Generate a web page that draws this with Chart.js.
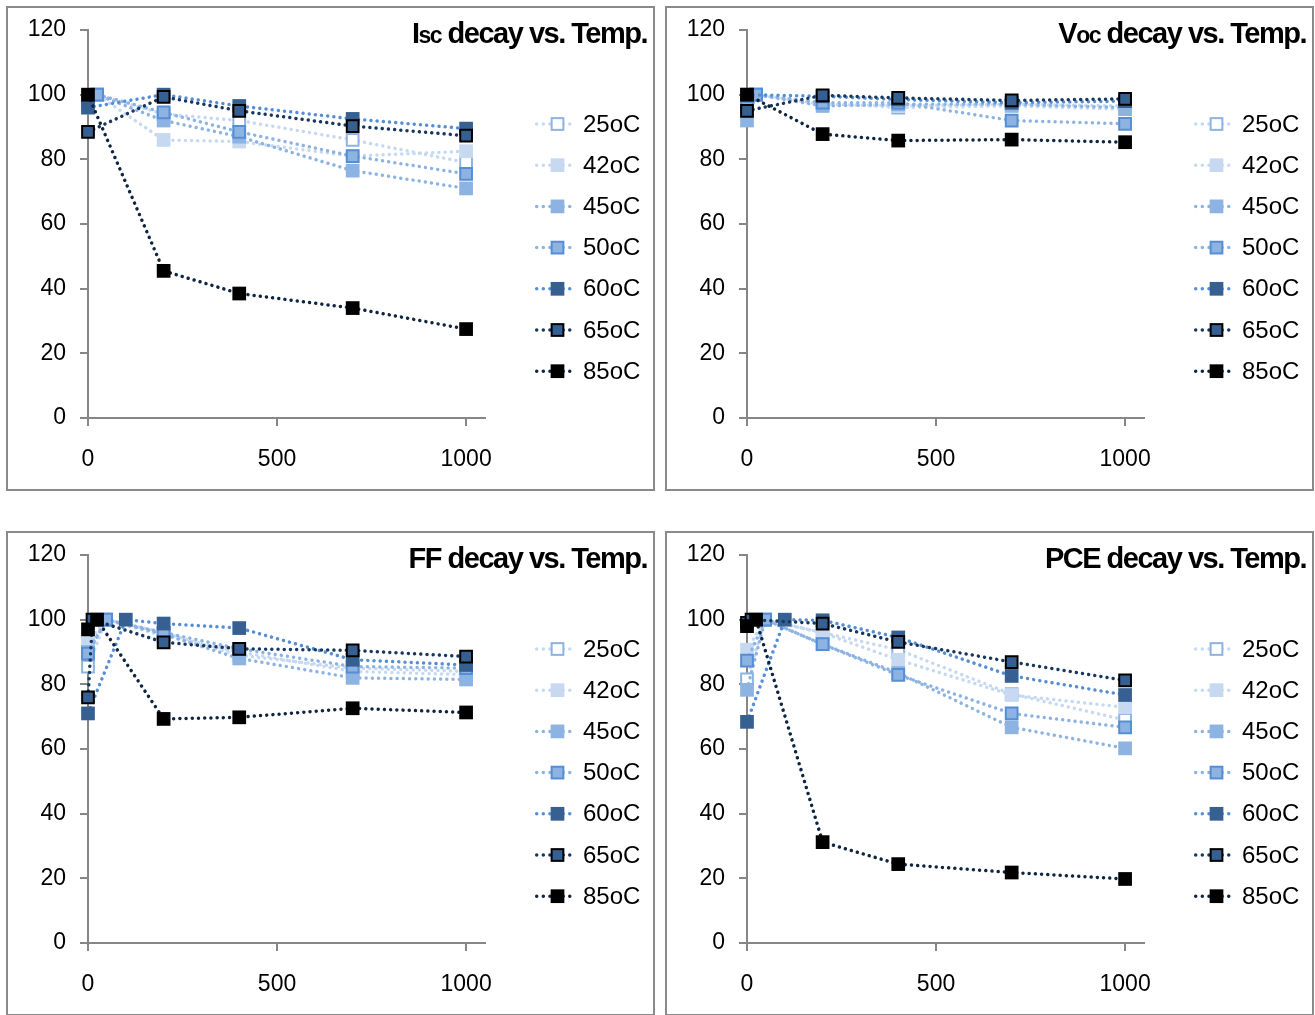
<!DOCTYPE html>
<html><head><meta charset="utf-8">
<script src="https://cdn.jsdelivr.net/npm/chart.js@4/dist/chart.umd.min.js"></script>
<style>
html,body{margin:0;padding:0;background:#fff;}
body{width:1315px;height:1015px;overflow:hidden;position:relative;}
.panel{position:absolute;width:645px;height:481px;border:2px solid #8a8a8a;background:#fff;}
canvas{display:block;}
</style></head><body>
<div class="panel" style="left:6px;top:6px"><canvas id="c0" width="645" height="481"></canvas></div>
<div class="panel" style="left:665px;top:6px"><canvas id="c1" width="645" height="481"></canvas></div>
<div class="panel" style="left:6px;top:531px"><canvas id="c2" width="645" height="481"></canvas></div>
<div class="panel" style="left:665px;top:531px"><canvas id="c3" width="645" height="481"></canvas></div>
<script>
// ---------------- data ----------------
const seriesLabels = ['25oC', '42oC', '45oC', '50oC', '60oC', '65oC', '85oC'];
const xTickValues = [0, 500, 1000];
const yTickValues = [0, 20, 40, 60, 80, 100, 120];

// Isc decay
const iscTimes = [
  [0, 24, 200, 400, 700, 1000],
  [0, 24, 200, 400, 700, 1000],
  [0, 24, 200, 400, 700, 1000],
  [0, 24, 200, 400, 700, 1000],
  [0, 200, 400, 700, 1000],
  [0, 200, 400, 700, 1000],
  [0, 200, 400, 700, 1000]
];
const iscValues = [
  [97, 100, 94, 92, 86, 79],
  [96, 100, 86, 85.5, 81, 82.5],
  [97, 100, 92, 87, 76.5, 71],
  [98, 100, 94.5, 88.5, 81, 75.5],
  [96, 100, 96.5, 92.5, 89.5],
  [88.5, 99.3, 95, 90.3, 87.3],
  [100, 45.5, 38.5, 34, 27.5]
];

// Voc decay
const vocTimes = [
  [0, 24, 200, 400, 700, 1000],
  [0, 24, 200, 400, 700, 1000],
  [0, 24, 200, 400, 700, 1000],
  [0, 24, 200, 400, 700, 1000],
  [0, 200, 400, 700, 1000],
  [0, 200, 400, 700, 1000],
  [0, 200, 400, 700, 1000]
];
const vocValues = [
  [99, 100, 97.5, 96, 96.5, 95.5],
  [98, 100, 97, 96.5, 97, 96.5],
  [92, 100, 96.5, 97, 97, 96],
  [96, 100, 97.5, 97.5, 92, 91],
  [100, 99.5, 98.5, 97.5, 98],
  [95, 99.8, 99, 98.2, 98.7],
  [100, 87.8, 85.8, 86.1, 85.3]
];

// FF decay
const ffTimes = [
  [0, 48, 200, 400, 700, 1000],
  [0, 48, 200, 400, 700, 1000],
  [0, 48, 200, 400, 700, 1000],
  [0, 48, 200, 400, 700, 1000],
  [0, 100, 200, 400, 700, 1000],
  [0, 12, 200, 400, 700, 1000],
  [0, 24, 200, 400, 700, 1000]
];
const ffValues = [
  [85.5, 100, 95, 90, 84, 83],
  [93, 100, 96, 89, 85, 84],
  [90, 100, 95.5, 88, 82, 81.5],
  [89.5, 100, 96, 91, 85.5, 85],
  [71, 100, 98.8, 97.4, 87.6, 86],
  [76, 100, 93, 91, 90.5, 88.6],
  [97, 100, 69.3, 69.8, 72.6, 71.3]
];

// PCE decay
const pceTimes = [
  [0, 48, 200, 400, 700, 1000],
  [0, 48, 200, 400, 700, 1000],
  [0, 48, 200, 400, 700, 1000],
  [0, 48, 200, 400, 700, 1000],
  [0, 100, 200, 400, 700, 1000],
  [0, 12, 200, 400, 700, 1000],
  [0, 24, 200, 400, 700, 1000]
];
const pceValues = [
  [81.5, 100, 96, 90.7, 77, 69],
  [90.7, 100, 95.9, 87.6, 76.7, 72.9],
  [78.3, 100, 92.4, 83.5, 66.7, 60.2],
  [87.3, 100, 92.4, 82.9, 71, 66.7],
  [68.4, 100, 99.8, 94.5, 82.6, 76.7],
  [99, 100, 98.8, 93.1, 86.9, 81.2],
  [98, 100, 31.2, 24.4, 21.8, 19.8]
];

// titles: [text, isSubscript]
const iscTitle = [['I', false], ['sc', true], [' decay vs. Temp.', false]];
const vocTitle = [['V', false], ['oc', true], [' decay vs. Temp.', false]];
const ffTitle = [['FF decay vs. Temp.', false]];
const pceTitle = [['PCE decay vs. Temp.', false]];

// ---------------- styles ----------------
const seriesStyles = [
  { line: '#c6d9f1', fill: '#ffffff', border: '#8db3e2', bw: 2, r: 8.3 },
  { line: '#c6d9f1', fill: '#c6d9f1', border: '#c6d9f1', bw: 0, r: 9.7 },
  { line: '#8db3e2', fill: '#8db3e2', border: '#8db3e2', bw: 0, r: 9.7 },
  { line: '#8db3e2', fill: '#8db3e2', border: '#558ed5', bw: 2, r: 8.3 },
  { line: '#558ed5', fill: '#376092', border: '#376092', bw: 0, r: 9.7 },
  { line: '#17375e', fill: '#376092', border: '#000000', bw: 2, r: 8.3 },
  { line: '#0f243e', fill: '#000000', border: '#000000', bw: 0, r: 9.7 }
];
const FONT = '"Liberation Sans", Arial, sans-serif';
const AXIS_GRAY = '#868686';

function titlePlugin(parts) {
  return {
    id: 'panelTitle',
    afterDraw(chart) {
      const ctx = chart.ctx;
      ctx.save();
      ctx.letterSpacing = '-1.5px';
      ctx.fillStyle = '#000';
      ctx.textBaseline = 'alphabetic';
      ctx.textAlign = 'left';
      const fonts = parts.map(p => 'bold ' + (p[1] ? 23 : 29) + 'px ' + FONT);
      const widths = parts.map((p, k) => { ctx.font = fonts[k]; return ctx.measureText(p[0]).width; });
      let x = 639 - widths.reduce((a, b) => a + b, 0);
      parts.forEach((p, k) => { ctx.font = fonts[k]; ctx.fillText(p[0], x, 35); x += widths[k]; });
      ctx.restore();
    }
  };
}

const legendPlugin = {
  id: 'sideLegend',
  afterDraw(chart) {
    const ctx = chart.ctx;
    ctx.save();
    chart.data.datasets.forEach((ds, i) => {
      const y = 116 + i * 41.2;
      ctx.setLineDash([0.01, 6.6]);
      ctx.lineCap = 'round';
      ctx.lineWidth = 3.5;
      ctx.strokeStyle = ds.borderColor;
      ctx.beginPath(); ctx.moveTo(528.7, y); ctx.lineTo(566, y); ctx.stroke();
      ctx.setLineDash([]);
      const h = ds.pointRadius * Math.SQRT1_2;
      const cx = 549.5;
      ctx.fillStyle = ds.pointBackgroundColor;
      ctx.fillRect(cx - h, y - h, 2 * h, 2 * h);
      if (ds.pointBorderWidth > 0) {
        ctx.lineWidth = ds.pointBorderWidth;
        ctx.strokeStyle = ds.pointBorderColor;
        ctx.strokeRect(cx - h, y - h, 2 * h, 2 * h);
      }
      ctx.fillStyle = '#000';
      ctx.font = '24px ' + FONT;
      ctx.textBaseline = 'middle';
      ctx.textAlign = 'left';
      ctx.fillText(ds.label, 575, y + 1);
    });
    ctx.restore();
  }
};

function makeChart(id, times, values, title) {
  const datasets = seriesLabels.map((label, i) => {
    const st = seriesStyles[i];
    return {
      label: label,
      data: times[i].map((t, k) => ({ x: t, y: values[i][k] })),
      showLine: true,
      borderColor: st.line,
      borderWidth: 3.5,
      borderDash: [0.01, 6.2],
      borderCapStyle: 'round',
      pointStyle: 'rect',
      pointRadius: st.r,
      pointBackgroundColor: st.fill,
      pointBorderColor: st.border,
      pointBorderWidth: st.bw,
      order: seriesLabels.length - 1 - i,
      clip: false,
      tension: 0
    };
  });
  new Chart(document.getElementById(id), {
    type: 'scatter',
    data: { datasets: datasets },
    options: {
      responsive: false,
      animation: false,
      events: [],
      layout: { padding: { left: 0, right: 168, top: 22, bottom: 0 } },
      plugins: { legend: { display: false }, tooltip: { enabled: false }, title: { display: false } },
      scales: {
        x: {
          type: 'linear', min: 0, max: 1050,
          afterBuildTicks: s => { s.ticks = xTickValues.map(v => ({ value: v })); },
          afterFit: s => { s.height = 71; s.paddingLeft = 0; s.paddingRight = 0; },
          grid: { drawOnChartArea: false, drawTicks: true, tickLength: 8, color: AXIS_GRAY, lineWidth: 2 },
          border: { color: AXIS_GRAY, width: 2 },
          ticks: { font: { family: FONT, size: 23 }, color: '#000', padding: 20, maxRotation: 0, autoSkip: false, callback: v => String(v) }
        },
        y: {
          type: 'linear', min: 0, max: 120,
          afterBuildTicks: s => { s.ticks = yTickValues.map(v => ({ value: v })); },
          afterFit: s => { s.width = 80; s.paddingTop = 0; s.paddingBottom = 0; },
          grid: { drawOnChartArea: false, drawTicks: true, tickLength: 8, color: AXIS_GRAY, lineWidth: 2 },
          border: { color: AXIS_GRAY, width: 2 },
          ticks: { font: { family: FONT, size: 23 }, color: '#000', padding: 14, autoSkip: false, callback: v => String(v) }
        }
      }
    },
    plugins: [titlePlugin(title), legendPlugin]
  });
}

makeChart('c0', iscTimes, iscValues, iscTitle);
makeChart('c1', vocTimes, vocValues, vocTitle);
makeChart('c2', ffTimes, ffValues, ffTitle);
makeChart('c3', pceTimes, pceValues, pceTitle);
</script>
</body></html>
